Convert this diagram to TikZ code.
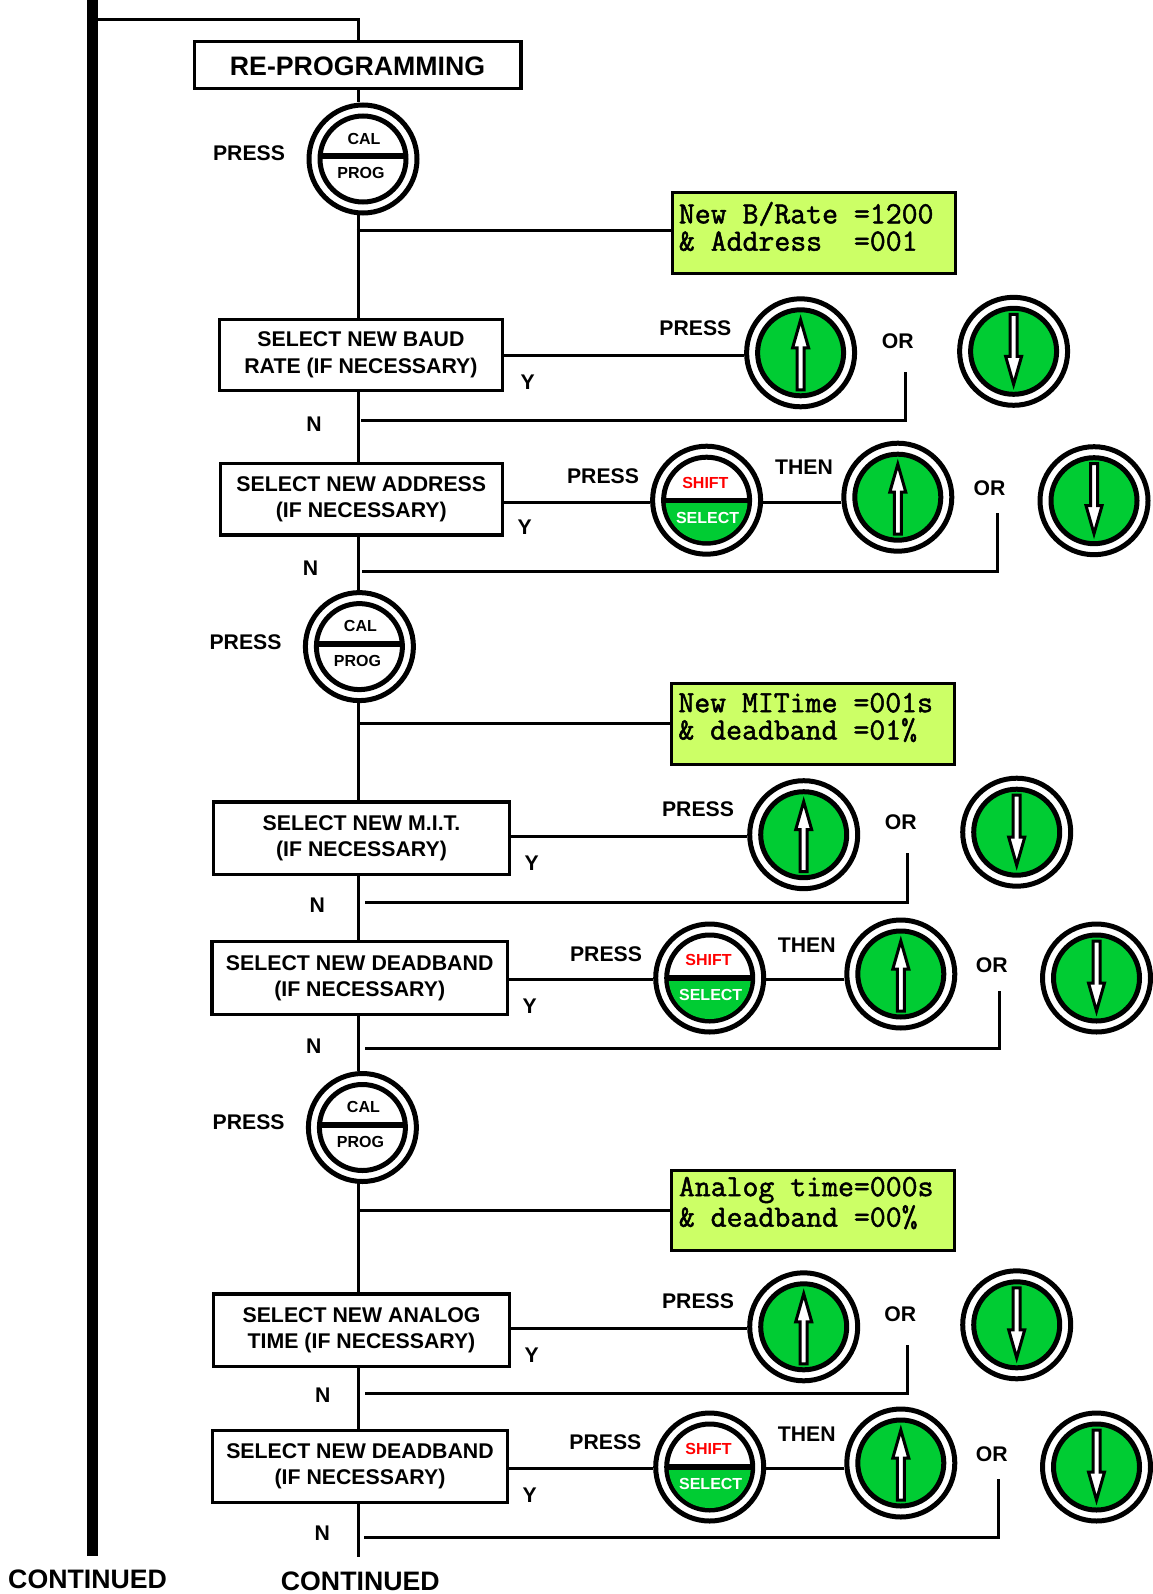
\documentclass[tikz,border=0pt]{standalone}
\usepackage{fontspec}
\setmainfont{Liberation Sans}
\newfontfamily\lcdfont[AutoFakeBold=1.6]{Latin Modern Mono}
\definecolor{btngreen}{RGB}{0,204,51}
\definecolor{lcdgreen}{RGB}{204,255,102}
\tikzset{
  x=0.5pt,y=-0.5pt,
  conn/.style={draw=black,line width=1.5pt},
  busbar/.style={draw=black,line width=5.5pt},
  boxA/.style={draw=black,fill=white,line width=1.6pt,inner sep=0pt,align=center,font=\bfseries\fontsize{13.35}{17}\selectfont,execute at begin node={\rule{0pt}{10.6pt}}},
  boxB/.style={draw=black,fill=white,line width=1.6pt,inner sep=0pt,align=center,font=\bfseries\fontsize{10.65}{13.2}\selectfont,execute at begin node={\rule{0pt}{9pt}}},
  lcdbox/.style={draw=black,fill=lcdgreen,line width=1.5pt,inner sep=0pt},
  lcdtext/.style={inner sep=0pt,anchor=west,align=left,font=\lcdfont\bfseries\fontsize{15.45}{13.65}\selectfont},
  lab/.style={inner sep=0pt,yshift=-0.1pt,font=\bfseries\fontsize{10.6}{12}\selectfont},
  conttext/.style={inner sep=0pt,font=\bfseries\fontsize{13.35}{16}\selectfont},
  ring/.style={circle,draw=black,fill=white,line width=2.5pt,minimum size=54pt,inner sep=0pt},
  btnsmall/.style={inner sep=0pt,yshift=-0.2pt,font=\bfseries\fontsize{8}{9}\selectfont},
  arrowshape/.style={draw=black,fill=white,line width=1.5pt,miter limit=10},
}
\newcommand{\innerring}[2]{\draw[line width=2.5pt,fill=#2] (#1.center) circle (21.5pt);}
\newcommand{\arrowpath}{(0,-33) -- (8,-5) -- (3.5,-5) -- (3.5,37) -- (-3.5,37) -- (-3.5,-5) -- (-8,-5) -- cycle}
\newcommand{\upbtn}[3]{%
  \node[ring] (#1) at (#2,#3) {};
  \innerring{#1}{btngreen}
  \begin{scope}[shift={(#1.center)}]\draw[arrowshape] \arrowpath;\end{scope}}
\newcommand{\downbtn}[3]{%
  \node[ring] (#1) at (#2,#3) {};
  \innerring{#1}{btngreen}
  \begin{scope}[shift={(#1.center)},yscale=-1]\draw[arrowshape] \arrowpath;\end{scope}}
\newcommand{\calbtn}[3]{%
  \node[ring] (#1) at (#2,#3) {};
  \innerring{#1}{white}
  \draw[line width=3pt] ([shift={(-43,-3)}]#1.center) -- ([shift={(43,-3)}]#1.center);
  \node[btnsmall] (#1cal) at ([shift={(1,-20.7)}]#1.center) {CAL};
  \node[btnsmall] (#1prog) at ([shift={(-2,13.7)}]#1.center) {PROG};}
\newcommand{\shiftbtn}[3]{%
  \node[ring] (#1) at (#2,#3) {};
  \innerring{#1}{white}
  \begin{scope}
    \clip (#1.center) circle (20.5pt);
    \fill[btngreen] ([shift={(-50,0)}]#1.center) rectangle ([shift={(50,50)}]#1.center);
  \end{scope}
  \draw[line width=2.7pt] ([shift={(-43,0)}]#1.center) -- ([shift={(43,0)}]#1.center);
  \node[btnsmall,text=red] (#1top) at ([shift={(-1.2,-18)}]#1.center) {SHIFT};
  \node[btnsmall,text=white] (#1bot) at ([shift={(1,17)}]#1.center) {SELECT};}
\begin{document}
\begin{tikzpicture}
\useasboundingbox (0,0) rectangle (1152,1594);
\coordinate (m) at (358.5,0);
\coordinate (bus0) at (92.6,0);
\coordinate (bus1) at (92.6,1556);
\coordinate (bustap) at (92.6,19.5);
\coordinate (mend) at (358.5,1557);
% boxes
\node[boxA,minimum width=163.4pt,minimum height=23.4pt] (reprog) at (357.5,65.2) {RE-PROGRAMMING};
\node[boxB,minimum width=141.2pt,minimum height=35.8pt] (baud) at (360.9,354.9) {SELECT NEW BAUD\\RATE (IF NECESSARY)};
\node[boxB,minimum width=141.2pt,minimum height=35.8pt] (addr) at (361.3,499.2) {SELECT NEW ADDRESS\\(IF NECESSARY)};
\node[boxB,minimum width=148.2pt,minimum height=36.3pt] (mit) at (361.5,838.2) {SELECT NEW M.I.T.\\(IF NECESSARY)};
\node[boxB,minimum width=147.7pt,minimum height=36.5pt] (dead) at (359.7,978) {SELECT NEW DEADBAND\\(IF NECESSARY)};
\node[boxB,minimum width=148.2pt,minimum height=36.3pt] (analog) at (361.5,1330.2) {SELECT NEW ANALOG\\TIME (IF NECESSARY)};
\node[boxB,minimum width=147.7pt,minimum height=36pt] (deadb) at (360,1466.5) {SELECT NEW DEADBAND\\(IF NECESSARY)};
% LCDs
\node[lcdbox,minimum width=141.5pt,minimum height=40.2pt] (lcdA) at (813.5,233.2) {};
\node[lcdbox,minimum width=141.5pt,minimum height=40.2pt] (lcdB) at (812.8,724) {};
\node[lcdbox,minimum width=141.5pt,minimum height=40.2pt] (lcdC) at (813,1210.2) {};
\node[lcdtext] (lcdAt) at (678.5,226.5) {New B/Rate =1200\\\&~Address~~=001};
\node[lcdtext] (lcdBt) at (678,717.5) {New MITime =001s\\\&~deadband =01\%};
\node[lcdtext] (lcdCt) at (678.5,1203) {Analog time=000s\\\&~deadband =00\%};
% buttons
\calbtn{calA}{363}{159}
\calbtn{calB}{359.4}{646.6}
\calbtn{calC}{362.4}{1127.5}
\upbtn{upA}{800.6}{352.8}
\downbtn{downA}{1013.6}{351.3}
\shiftbtn{shA}{706.6}{500.2}
\upbtn{upB}{897.8}{497.2}
\downbtn{downB}{1094}{500.7}
\upbtn{upC}{803.7}{834.7}
\downbtn{downC}{1016.7}{832.2}
\shiftbtn{shB}{709.7}{978}
\upbtn{upD}{900.8}{974}
\downbtn{downD}{1096.5}{978}
\upbtn{upE}{803.7}{1326.8}
\downbtn{downE}{1016.7}{1324.8}
\shiftbtn{shC}{709.7}{1467}
\upbtn{upF}{900.8}{1463}
\downbtn{downF}{1096.5}{1467}
% main connectors
\draw[busbar] (bus0) -- (bus1);
\draw[conn] (bustap) -| (m |- reprog.north);
\draw[conn] (m |- reprog.south) -- (m |- calA.north);
\draw[conn] (m |- calA.south) -- (m |- baud.north);
\draw[conn] (m |- baud.south) -- (m |- addr.north);
\draw[conn] (m |- addr.south) -- (m |- calB.north);
\draw[conn] (m |- calB.south) -- (m |- mit.north);
\draw[conn] (m |- mit.south) -- (m |- dead.north);
\draw[conn] (m |- dead.south) -- (m |- calC.north);
\draw[conn] (m |- calC.south) -- (m |- analog.north);
\draw[conn] (m |- analog.south) -- (m |- deadb.north);
\draw[conn] (m |- deadb.south) -- (mend);
% LCD taps
\coordinate (tapA) at (0,230.3);
\coordinate (tapB) at (0,723.3);
\coordinate (tapC) at (0,1210.4);
\draw[conn] ([xshift=-1pt]m |- tapA) -- (lcdA.west |- tapA);
\draw[conn] (m |- tapB) -- (lcdB.west |- tapB);
\draw[conn] (m |- tapC) -- (lcdC.west |- tapC);
% Y branches
\coordinate (yA) at (0,355.6);
\coordinate (yB) at (0,502.2);
\coordinate (yC) at (0,836);
\coordinate (yD) at (0,979.6);
\coordinate (yE) at (0,1328.3);
\coordinate (yF) at (0,1468);
\draw[conn] (baud.east |- yA) -- (upA.west |- yA);
\draw[conn] (addr.east |- yB) -- (shA.west |- yB);
\draw[conn] (shA.east |- yB) -- (upB.west |- yB);
\draw[conn] (mit.east |- yC) -- (upC.west |- yC);
\draw[conn] (dead.east |- yD) -- (shB.west |- yD);
\draw[conn] (shB.east |- yD) -- (upD.west |- yD);
\draw[conn] (analog.east |- yE) -- (upE.west |- yE);
\draw[conn] (deadb.east |- yF) -- (shC.west |- yF);
\draw[conn] (shC.east |- yF) -- (upF.west |- yF);
% N returns
\coordinate (nAs) at (361,420); \coordinate (nAe) at (905,372);
\coordinate (nBs) at (362,571); \coordinate (nBe) at (997,513);
\coordinate (nCs) at (365,902); \coordinate (nCe) at (907,853);
\coordinate (nDs) at (365,1048); \coordinate (nDe) at (999.4,991.3);
\coordinate (nEs) at (365,1393.4); \coordinate (nEe) at (907,1345);
\coordinate (nFs) at (364,1537); \coordinate (nFe) at (998.4,1479);
\draw[conn] (nAs) -| (nAe);
\draw[conn] (nBs) -| (nBe);
\draw[conn] (nCs) -| (nCe);
\draw[conn] (nDs) -| (nDe);
\draw[conn] (nEs) -| (nEe);
\draw[conn] (nFs) -| (nFe);
% labels
\node[lab] (pA) at (249,153.5) {PRESS};
\node[lab] (pB) at (245.5,641.5) {PRESS};
\node[lab] (pC) at (248.6,1122.4) {PRESS};
\node[lab] (p1) at (695.4,328.4) {PRESS};
\node[lab] (o1) at (897.7,340.6) {OR};
\node[lab] (y1) at (527.6,382.3) {Y};
\node[lab] (n1) at (314,424) {N};
\node[lab] (p2) at (603,475.8) {PRESS};
\node[lab] (t2) at (804,467.5) {THEN};
\node[lab] (o2) at (989.6,487.7) {OR};
\node[lab] (y2) at (524.6,526.6) {Y};
\node[lab] (n2) at (310.6,568.3) {N};
\node[lab] (p3) at (698,809.3) {PRESS};
\node[lab] (o3) at (900.8,821.5) {OR};
\node[lab] (y3) at (531.7,863.2) {Y};
\node[lab] (n3) at (317.2,904.9) {N};
\node[lab] (p4) at (606,953.7) {PRESS};
\node[lab] (t4) at (806.8,944.5) {THEN};
\node[lab] (o4) at (991.8,964.9) {OR};
\node[lab] (y4) at (529.7,1005.5) {Y};
\node[lab] (n4) at (313.7,1046.2) {N};
\node[lab] (p5) at (698,1301.4) {PRESS};
\node[lab] (o5) at (900.3,1313.6) {OR};
\node[lab] (y5) at (531.7,1355.3) {Y};
\node[lab] (n5) at (322.8,1394.9) {N};
\node[lab] (p6) at (605.4,1441.7) {PRESS};
\node[lab] (t6) at (806.8,1433.5) {THEN};
\node[lab] (o6) at (991.8,1453.9) {OR};
\node[lab] (y6) at (529.7,1494.5) {Y};
\node[lab] (n6) at (322.3,1533.2) {N};
\node[conttext] (c1) at (87.6,1579.3) {CONTINUED};
\node[conttext] (c2) at (360.3,1581.7) {CONTINUED};
\end{tikzpicture}
\end{document}
